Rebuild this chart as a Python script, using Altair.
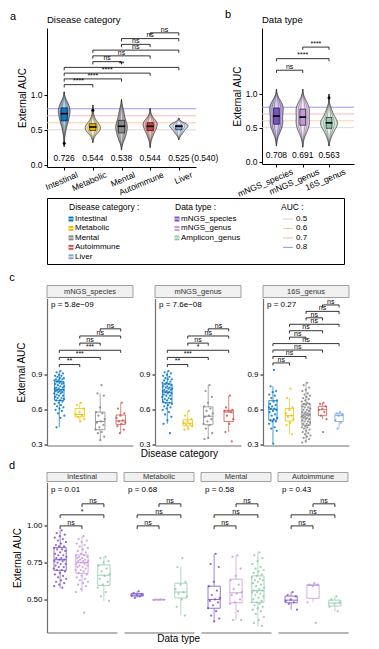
import json
import altair as alt
import pandas as pd

FONT = "Liberation Sans"

# ---------------- categories ----------------
diseases = ["Intestinal", "Metabolic", "Mental", "Autoimmune", "Liver"]
c_types = ["mNGS_species", "mNGS_genus", "16S_genus"]
d_types = ["mNGS_species", "mNGS_genus", "Amplicon_genus"]
d_diseases = ["Intestinal", "Metabolic", "Mental", "Autoimmune"]

# ---------------- panel c values (also feed the violins of a and b) ----------------
c_species_intestinal = [0.93, 0.92, 0.91, 0.90, 0.89, 0.89, 0.88, 0.87, 0.87, 0.86, 0.86, 0.85, 0.85, 0.84,
                        0.84, 0.83, 0.83, 0.82, 0.82, 0.81, 0.80, 0.80, 0.79, 0.79, 0.78, 0.78, 0.77, 0.77,
                        0.77, 0.76, 0.76, 0.75, 0.75, 0.74, 0.74, 0.73, 0.72, 0.72, 0.71, 0.70, 0.70, 0.69,
                        0.68, 0.68, 0.67, 0.66, 0.65, 0.64, 0.63, 0.62, 0.61, 0.60, 0.59, 0.57, 0.55, 0.53, 0.45]
c_species_metabolic = [0.66, 0.64, 0.61, 0.58, 0.56, 0.55, 0.54, 0.52, 0.50]
c_species_mental = [0.81, 0.74, 0.72, 0.62, 0.58, 0.57, 0.55, 0.52, 0.50, 0.49, 0.47, 0.45, 0.43, 0.41,
                    0.40, 0.37, 0.34]
c_species_autoimmune = [0.66, 0.61, 0.57, 0.55, 0.53, 0.51, 0.50, 0.49, 0.48, 0.46, 0.43, 0.40]

c_genus_intestinal = [0.93, 0.92, 0.91, 0.90, 0.89, 0.88, 0.87, 0.86, 0.86, 0.85, 0.84, 0.83, 0.83, 0.82,
                      0.82, 0.81, 0.80, 0.80, 0.79, 0.79, 0.78, 0.78, 0.77, 0.77, 0.76, 0.76, 0.75, 0.75,
                      0.74, 0.74, 0.73, 0.72, 0.72, 0.71, 0.70, 0.69, 0.69, 0.68, 0.67, 0.66, 0.66, 0.65,
                      0.64, 0.63, 0.62, 0.61, 0.60, 0.58, 0.56, 0.54, 0.51, 0.48, 0.40]
c_genus_metabolic = [0.59, 0.55, 0.52, 0.50, 0.49, 0.48, 0.47, 0.46, 0.44, 0.43]
c_genus_mental = [0.81, 0.76, 0.71, 0.66, 0.63, 0.61, 0.59, 0.57, 0.55, 0.54, 0.52, 0.50, 0.48, 0.47,
                  0.44, 0.40, 0.36, 0.35]
c_genus_autoimmune = [0.72, 0.62, 0.60, 0.59, 0.59, 0.58, 0.55, 0.52, 0.48, 0.41, 0.33]

c_16s_intestinal = [0.94, 0.80, 0.76, 0.75, 0.73, 0.72, 0.70, 0.68, 0.67, 0.65, 0.64, 0.63, 0.62, 0.61,
                    0.61, 0.60, 0.59, 0.58, 0.56, 0.55, 0.53, 0.52, 0.51, 0.50, 0.50, 0.48, 0.45, 0.44,
                    0.42, 0.31]
c_16s_metabolic = [0.78, 0.70, 0.62, 0.60, 0.57, 0.55, 0.54, 0.52, 0.49, 0.47, 0.39]
c_16s_mental = [0.83, 0.81, 0.79, 0.77, 0.76, 0.74, 0.73, 0.72, 0.71, 0.70, 0.69, 0.68, 0.67, 0.66,
                0.65, 0.65, 0.64, 0.63, 0.62, 0.62, 0.61, 0.60, 0.60, 0.59, 0.58, 0.58, 0.57, 0.57,
                0.56, 0.56, 0.55, 0.55, 0.54, 0.54, 0.53, 0.53, 0.52, 0.52, 0.51, 0.50, 0.50, 0.49,
                0.48, 0.48, 0.47, 0.46, 0.45, 0.45, 0.44, 0.43, 0.42, 0.41, 0.40, 0.39, 0.38, 0.37,
                0.36, 0.35, 0.33, 0.32]
c_16s_autoimmune = [0.66, 0.65, 0.63, 0.61, 0.60, 0.58, 0.55, 0.52, 0.41]
c_16s_liver = [0.58, 0.57, 0.56, 0.55, 0.51, 0.49, 0.44]

# ---------------- panel d values ----------------
d_intestinal_species = [0.97, 0.95, 0.94, 0.93, 0.92, 0.91, 0.90, 0.89, 0.88, 0.87, 0.86, 0.86, 0.85, 0.84,
                        0.84, 0.83, 0.82, 0.81, 0.80, 0.80, 0.79, 0.78, 0.78, 0.77, 0.77, 0.76, 0.76, 0.75,
                        0.74, 0.74, 0.73, 0.72, 0.72, 0.71, 0.70, 0.70, 0.69, 0.68, 0.67, 0.66, 0.65, 0.64,
                        0.63, 0.62, 0.61, 0.60, 0.59, 0.58]
d_intestinal_genus = [0.93, 0.91, 0.90, 0.89, 0.88, 0.87, 0.86, 0.85, 0.84, 0.83, 0.82, 0.81, 0.80, 0.80,
                      0.79, 0.79, 0.78, 0.78, 0.77, 0.77, 0.76, 0.76, 0.76, 0.75, 0.75, 0.74, 0.74, 0.73,
                      0.73, 0.72, 0.72, 0.71, 0.70, 0.70, 0.69, 0.68, 0.67, 0.66, 0.65, 0.64, 0.63, 0.62,
                      0.61, 0.60, 0.59, 0.57, 0.55, 0.41]
d_intestinal_amplicon = [0.79, 0.78, 0.76, 0.75, 0.73, 0.71, 0.69, 0.67, 0.66, 0.64, 0.62, 0.60, 0.58,
                         0.55, 0.52, 0.49]
d_metabolic_species = [0.555, 0.545, 0.535, 0.53, 0.525, 0.52, 0.51]
d_metabolic_genus = [0.50, 0.50, 0.498, 0.497, 0.495]
d_metabolic_amplicon = [0.78, 0.72, 0.62, 0.60, 0.57, 0.55, 0.54, 0.52, 0.50, 0.45, 0.39]
d_mental_species = [0.81, 0.74, 0.72, 0.62, 0.59, 0.56, 0.53, 0.51, 0.50, 0.49, 0.48, 0.46, 0.44, 0.42,
                    0.39, 0.37, 0.35]
d_mental_genus = [0.80, 0.79, 0.71, 0.66, 0.63, 0.60, 0.57, 0.55, 0.54, 0.53, 0.50, 0.48, 0.47, 0.42,
                  0.36, 0.36]
d_mental_amplicon = [0.82, 0.80, 0.78, 0.76, 0.74, 0.72, 0.71, 0.70, 0.69, 0.68, 0.67, 0.66, 0.65, 0.64,
                     0.63, 0.63, 0.62, 0.61, 0.60, 0.59, 0.58, 0.57, 0.56, 0.56, 0.55, 0.55, 0.54, 0.53,
                     0.52, 0.51, 0.50, 0.49, 0.48, 0.48, 0.47, 0.46, 0.45, 0.44, 0.43, 0.42, 0.40, 0.38,
                     0.36, 0.34, 0.32]
d_autoimmune_species = [0.55, 0.53, 0.52, 0.50, 0.49, 0.48, 0.47, 0.43]
d_autoimmune_genus = [0.61, 0.60, 0.60, 0.59, 0.48, 0.34]
d_autoimmune_amplicon = [0.52, 0.50, 0.48, 0.47, 0.45, 0.42]

# ---------------- text labels ----------------
a_means = ["0.726", "0.544", "0.538", "0.544", "0.525"]
a_mean_extra = "(0.540)"
b_means = ["0.708", "0.691", "0.563"]

pairs5 = [(0, 1), (0, 2), (0, 3), (0, 4), (1, 2), (1, 3), (1, 4), (2, 3), (2, 4), (3, 4)]
pairs4 = [(0, 1), (0, 2), (0, 3), (1, 2), (1, 3), (2, 3)]
pairs3 = [(0, 1), (0, 2), (1, 2)]
a_sig = ["****", "****", "****", "**", "ns", "ns", "ns", "ns", "ns", "ns"]
b_sig = ["ns", "****", "****"]
c_sig = [["**", "***", "***", "ns", "ns", "ns"],
         ["**", "***", "*", "ns", "ns", "ns"],
         ["ns"] * 10]
c_p = ["p = 5.8e\u221209", "p = 7.6e\u221208", "p = 0.27"]
d_sig = [["ns", "*", "ns"], ["ns", "ns", "ns"], ["ns", "ns", "ns"], ["ns", "ns", "ns"]]
d_p = ["p = 0.01", "p = 0.68", "p = 0.58", "p = 0.43"]

legend_headers = ["Disease category :", "Data type :", "AUC :"]
auc_levels = [0.5, 0.6, 0.7, 0.8]

# ---------------- styles ----------------
DIS_COL = {"Intestinal": "#0073C2", "Metabolic": "#EFC000", "Mental": "#868686",
           "Autoimmune": "#CD534C", "Liver": "#7AA6DC"}
DIS_FILL = {"Intestinal": "#8DB3D4", "Metabolic": "#F4E3A6", "Mental": "#B4B4B4",
            "Autoimmune": "#EDB3AF", "Liver": "#CFDDF0"}
DIS_BOX = {"Intestinal": "#1477C6", "Metabolic": "#F0B400", "Mental": "#8C8C8C",
           "Autoimmune": "#D0403A", "Liver": "#7AA6DC"}
TYPE_COL = ["#7A52C7", "#C49AD8", "#8FC9AA"]
TYPE_FILL = ["#BBA8E2", "#E3CDEC", "#D3E9DC"]
AUC_COLS = ["#D6D6D6", "#FBCB92", "#F5B5B5", "#8D8DF6"]

c_groups = {
    ("mNGS_species", "Intestinal"): c_species_intestinal,
    ("mNGS_species", "Metabolic"): c_species_metabolic,
    ("mNGS_species", "Mental"): c_species_mental,
    ("mNGS_species", "Autoimmune"): c_species_autoimmune,
    ("mNGS_genus", "Intestinal"): c_genus_intestinal,
    ("mNGS_genus", "Metabolic"): c_genus_metabolic,
    ("mNGS_genus", "Mental"): c_genus_mental,
    ("mNGS_genus", "Autoimmune"): c_genus_autoimmune,
    ("16S_genus", "Intestinal"): c_16s_intestinal,
    ("16S_genus", "Metabolic"): c_16s_metabolic,
    ("16S_genus", "Mental"): c_16s_mental,
    ("16S_genus", "Autoimmune"): c_16s_autoimmune,
    ("16S_genus", "Liver"): c_16s_liver,
}
d_groups = {
    ("Intestinal", "mNGS_species"): d_intestinal_species,
    ("Intestinal", "mNGS_genus"): d_intestinal_genus,
    ("Intestinal", "Amplicon_genus"): d_intestinal_amplicon,
    ("Metabolic", "mNGS_species"): d_metabolic_species,
    ("Metabolic", "mNGS_genus"): d_metabolic_genus,
    ("Metabolic", "Amplicon_genus"): d_metabolic_amplicon,
    ("Mental", "mNGS_species"): d_mental_species,
    ("Mental", "mNGS_genus"): d_mental_genus,
    ("Mental", "Amplicon_genus"): d_mental_amplicon,
    ("Autoimmune", "mNGS_species"): d_autoimmune_species,
    ("Autoimmune", "mNGS_genus"): d_autoimmune_genus,
    ("Autoimmune", "Amplicon_genus"): d_autoimmune_amplicon,
}

rows = []
for (t, dn), vals in c_groups.items():
    for v in vals:
        rows.append((t, dn, v))
c_long = pd.DataFrame(rows, columns=["type", "disease", "auc"])


def qx(f, sc, ax):
    return alt.X(f"{f}:Q", scale=sc, axis=ax)


def qy(f, sc, ax):
    return alt.Y(f"{f}:Q", scale=sc, axis=ax)


def txt(s, **kw):
    return alt.Chart(pd.DataFrame({"t": [s]})).mark_text(**kw)


def bracket_layers(pairs, sigs, base, step, tick, xs, xax, ys, yax, fs):
    df = pd.DataFrame({"i1": [p[0] for p in pairs], "i2": [p[1] for p in pairs],
                       "sig": sigs, "k": list(range(len(pairs)))})
    b = alt.Chart(df).transform_calculate(
        lev=f"{base} + {step} * datum.k",
        low=f"{base} + {step} * datum.k - {tick}",
        mid="(datum.i1 + datum.i2) / 2")
    h = b.mark_rule(color="black", strokeWidth=0.8).encode(
        x=qx("i1", xs, xax), x2=alt.X2("i2"), y=qy("lev", ys, yax))
    v1 = b.mark_rule(color="black", strokeWidth=0.8).encode(
        x=qx("i1", xs, xax), y=qy("lev", ys, yax), y2=alt.Y2("low"))
    v2 = b.mark_rule(color="black", strokeWidth=0.8).encode(
        x=qx("i2", xs, xax), y=qy("lev", ys, yax), y2=alt.Y2("low"))
    t = b.mark_text(fontSize=fs, baseline="bottom", dy=-0.3).encode(
        x=qx("mid", xs, xax), y=qy("lev", ys, yax), text="sig:N")
    return [h, v1, v2, t]


def violin_chart(df, names, width, height, xdom, ydom, pairs, sigs, bbase, bstep,
                 means, title, letter, letter_dy, label_offset, half, extra=None):
    xs = alt.Scale(domain=xdom, nice=False, zero=False)
    ys = alt.Scale(domain=ydom, nice=False, zero=False)
    xax = alt.Axis(values=list(range(len(names))), labelExpr=json.dumps(names) + "[round(datum.value)]",
                   title=None, labelAngle=337, labelAlign="right", labelBaseline="top",
                   labelFontSize=8.5, labelOffset=label_offset, labelPadding=0, tickSize=3,
                   labelOverlap=False, labelBound=False, labelFlush=False)
    yax = alt.Axis(values=[0, 0.5, 1.0], format=".1f", title="External AUC", titleFontSize=10,
                   labelFontSize=8.5, tickSize=3, labelPadding=2, titlePadding=3)
    layers = []
    auc_df = pd.DataFrame({"lvl": auc_levels, "col": AUC_COLS})
    layers.append(alt.Chart(auc_df).mark_rule(strokeWidth=0.9).encode(
        y=qy("lvl", ys, yax), color=alt.Color("col:N", scale=None)))
    dens = alt.Chart(df).transform_density(
        "auc", groupby=["grp", "idx", "fill"], as_=["auc", "dens"], extent=[0.0, 1.3], steps=220
    ).transform_joinaggregate(maxd="max(dens)", groupby=["grp"]
    ).transform_joinaggregate(gmax="max(dens)"
    ).transform_filter("datum.dens > 0.012 * datum.maxd"
    ).transform_calculate(w="datum.dens / datum.maxd * sqrt(datum.maxd / datum.gmax)")
    for frac, style in [(half, dict(stroke="black", strokeWidth=0.6)),
                        (half * 0.64, dict(fill="white", fillOpacity=0.28, stroke="#3a3a3a", strokeWidth=0.4)),
                        (half * 0.32, dict(fill="white", fillOpacity=0.22, stroke="#3a3a3a", strokeWidth=0.4))]:
        lay = dens.transform_calculate(
            l=f"datum.idx - {frac} * datum.w",
            r=f"datum.idx + {frac} * datum.w")
        enc = dict(y=qy("auc", ys, yax), x=qx("l", xs, xax), x2=alt.X2("r"), detail="grp:N")
        if "fill" not in style:
            enc["fill"] = alt.Fill("fill:N", scale=None)
        layers.append(lay.mark_area(orient="horizontal", **style).encode(**enc))
    stats = alt.Chart(df).transform_aggregate(
        q1="q1(auc)", med="median(auc)", q3="q3(auc)", groupby=["grp", "idx", "box"]
    ).transform_calculate(l="datum.idx - 0.11", r="datum.idx + 0.11",
                          ml="datum.idx - 0.13", mr="datum.idx + 0.13")
    layers.append(stats.mark_rect(stroke="black", strokeWidth=0.6).encode(
        x=qx("l", xs, xax), x2=alt.X2("r"), y=qy("q1", ys, yax), y2=alt.Y2("q3"),
        fill=alt.Fill("box:N", scale=None)))
    layers.append(stats.mark_rule(color="black", strokeWidth=1.6).encode(
        x=qx("ml", xs, xax), x2=alt.X2("mr"), y=qy("med", ys, yax)))
    outl = alt.Chart(df).transform_joinaggregate(q1="q1(auc)", q3="q3(auc)", groupby=["grp"]).transform_filter(
        "datum.auc < datum.q1 - 1.5 * (datum.q3 - datum.q1) || datum.auc > datum.q3 + 1.5 * (datum.q3 - datum.q1)")
    layers.append(outl.mark_circle(color="black", size=9, opacity=1).encode(
        x=qx("idx", xs, xax), y=qy("auc", ys, yax)))
    layers += bracket_layers(pairs, sigs, bbase, bstep, 0.04, xs, xax, ys, yax, 7)
    mdf = pd.DataFrame({"idx": list(range(len(means))), "lab": means})
    layers.append(alt.Chart(mdf).transform_calculate(ypos="0.1").mark_text(fontSize=8.5).encode(
        x=qx("idx", xs, xax), y=qy("ypos", ys, yax), text="lab:N"))
    if extra is not None:
        edf = pd.DataFrame({"idx": [len(means) - 1], "lab": [extra]})
        layers.append(alt.Chart(edf).transform_calculate(ypos="0.1").mark_text(fontSize=8.5, dx=26).encode(
            x=qx("idx", xs, xax), y=qy("ypos", ys, yax), text="lab:N"))
    layers.append(txt(title, fontSize=9.5, align="left", baseline="bottom").encode(
        x=alt.value(0), y=alt.value(-3), text="t:N"))
    layers.append(txt(letter, fontSize=11, align="center", baseline="middle").encode(
        x=alt.value(-34), y=alt.value(letter_dy), text="t:N"))
    return alt.layer(*layers).properties(width=width, height=height)


def box_panel(df, n, width, height, ydom, yvals, yfmt, ytitle, show_y, pairs, sigs, bbase, bstep,
              ptext, p_dy, strip, strip_top, letter, letter_dy, letter_vis, jw, bw):
    xs = alt.Scale(domain=[-0.6, n - 0.4], nice=False, zero=False)
    ys = alt.Scale(domain=ydom, nice=False, zero=False)
    xax = alt.Axis(labels=False, ticks=False, title=None, domainColor="#6e6e6e", domainWidth=1.2)
    if show_y:
        yax = alt.Axis(values=yvals, format=yfmt, title=ytitle, titleFontSize=10, labelFontSize=8,
                       tickSize=3, labelPadding=2, titlePadding=4,
                       domainColor="#6e6e6e", domainWidth=1.2)
    else:
        yax = None
    base = alt.Chart(df)
    stats = base.transform_joinaggregate(
        q1="q1(auc)", q3="q3(auc)", med="median(auc)", groupby=["grp"]
    ).transform_filter(
        "datum.auc >= datum.q1 - 1.5 * (datum.q3 - datum.q1) && datum.auc <= datum.q3 + 1.5 * (datum.q3 - datum.q1)"
    ).transform_aggregate(
        lo="min(auc)", hi="max(auc)", q1="min(q1)", q3="min(q3)", med="min(med)",
        groupby=["grp", "idx", "col"]
    ).transform_calculate(l=f"datum.idx - {bw}", r=f"datum.idx + {bw}")
    col = alt.Color("col:N", scale=None)
    layers = [
        alt.Chart(pd.DataFrame({"t": [strip]})).mark_rect(fill="#F0F0F0", stroke="#8a8a8a", strokeWidth=0.8).encode(
            x=alt.value(0), x2=alt.value(width), y=alt.value(strip_top), y2=alt.value(-1)),
        txt(strip, fontSize=7.5, color="#333333", baseline="middle").encode(
            x=alt.value(width / 2), y=alt.value((strip_top - 1) / 2), text="t:N"),
        stats.mark_rule(strokeWidth=0.7).encode(x=qx("idx", xs, xax), y=qy("lo", ys, yax), y2=alt.Y2("q1"), color=col),
        stats.mark_rule(strokeWidth=0.7).encode(x=qx("idx", xs, xax), y=qy("q3", ys, yax), y2=alt.Y2("hi"), color=col),
        stats.mark_rect(fill="white", strokeWidth=0.8).encode(
            x=qx("l", xs, xax), x2=alt.X2("r"), y=qy("q1", ys, yax), y2=alt.Y2("q3"),
            stroke=alt.Stroke("col:N", scale=None)),
        stats.mark_rule(strokeWidth=0.9).encode(x=qx("l", xs, xax), x2=alt.X2("r"), y=qy("med", ys, yax), color=col),
        base.transform_window(rn="row_number()", groupby=["grp"]).transform_calculate(
            jx=f"datum.idx + ((datum.rn * 0.6180339887) % 1 - 0.5) * {2 * jw}"
        ).mark_circle(size=5, opacity=0.85).encode(x=qx("jx", xs, xax), y=qy("auc", ys, yax), color=col),
    ]
    layers += bracket_layers(pairs, sigs, bbase, bstep, 0.022, xs, xax, ys, yax, 7)
    layers.append(txt(ptext, fontSize=8, align="left", baseline="top").encode(
        x=alt.value(4), y=alt.value(p_dy), text="t:N"))
    layers.append(txt(letter, fontSize=11, align="center", baseline="middle",
                      opacity=1 if letter_vis else 0).encode(
        x=alt.value(-35 if letter_vis else 8), y=alt.value(letter_dy), text="t:N"))
    return alt.layer(*layers).properties(width=width, height=height)


# ---------------- panel a ----------------
a_df = c_long.copy()
a_df["grp"] = a_df["disease"]
a_df["idx"] = a_df["disease"].map(lambda s: diseases.index(s))
a_df["fill"] = a_df["disease"].map(DIS_FILL)
a_df["box"] = a_df["disease"].map(DIS_BOX)
chart_a = violin_chart(a_df, diseases, 149, 139, [-0.6, 4.6], [-0.03, 1.95], pairs5, a_sig,
                       1.143, 0.082, a_means, "Disease category", "a", -11.5, 11, 0.32,
                       extra=a_mean_extra)

# ---------------- panel b ----------------
b_df = c_long.copy()
b_df["grp"] = b_df["type"]
b_df["idx"] = b_df["type"].map(lambda s: c_types.index(s))
b_df["fill"] = b_df["idx"].map(lambda i: TYPE_FILL[i])
b_df["box"] = b_df["idx"].map(lambda i: TYPE_COL[i])
chart_b = violin_chart(b_df, c_types, 92, 136, [-0.55, 2.95], [-0.035, 1.965], pairs3, b_sig,
                       1.344, 0.17, b_means, "Data type", "b", -13.5, 14, 0.32)

row1 = alt.hconcat(chart_a, chart_b, spacing=5)

# ---------------- legend box ----------------
lx = alt.Scale(domain=[-0.2264, 2.5755], nice=False, zero=False)
ly = alt.Scale(domain=[-2.222, 4.762], nice=False, zero=False, reverse=True)
leg_items = []
for i, dn in enumerate(diseases):
    leg_items.append({"c": 0, "r": i, "lab": dn, "col": DIS_COL[dn]})
for i, tn in enumerate(d_types):
    leg_items.append({"c": 1, "r": i, "lab": tn, "col": TYPE_COL[i]})
leg_sym = pd.DataFrame(leg_items)
leg_auc = pd.DataFrame({"c": [2] * 4, "r": list(range(4)), "lab": [str(v) for v in auc_levels], "col": AUC_COLS})
leg_head = pd.DataFrame({"c": [0, 1, 2], "lab": legend_headers})
legend = alt.layer(
    alt.Chart(leg_head).transform_calculate(r="-1.27").mark_text(
        align="left", baseline="middle", fontSize=8.5, dx=-2).encode(
        x=qx("c", lx, None), y=qy("r", ly, None), text="lab:N"),
    alt.Chart(leg_sym).mark_square(size=24, opacity=1).encode(
        x=qx("c", lx, None), y=qy("r", ly, None), color=alt.Color("col:N", scale=None)),
    alt.Chart(leg_sym).transform_calculate(a="datum.c - 0.022", b="datum.c + 0.022").mark_rule(
        color="white", strokeWidth=0.9).encode(x=qx("a", lx, None), x2=alt.X2("b"), y=qy("r", ly, None)),
    alt.Chart(leg_sym).mark_text(align="left", baseline="middle", fontSize=8, dx=4).encode(
        x=qx("c", lx, None), y=qy("r", ly, None), text="lab:N"),
    alt.Chart(leg_auc).transform_calculate(b="datum.c + 0.094").mark_rule(strokeWidth=1).encode(
        x=qx("c", lx, None), x2=alt.X2("b"), y=qy("r", ly, None), color=alt.Color("col:N", scale=None)),
    alt.Chart(leg_auc).mark_text(align="left", baseline="middle", fontSize=8, dx=13).encode(
        x=qx("c", lx, None), y=qy("r", ly, None), text="lab:N"),
    txt("a", fontSize=11, opacity=0).encode(x=alt.value(-34), y=alt.value(30), text="t:N"),
).properties(width=297, height=66, view=alt.ViewBackground(stroke="black", strokeWidth=1))

# ---------------- panel c ----------------
c_panels = []
c_base = [(0.986, 0.061), (0.986, 0.061), (1.0, 0.055)]
for k, t in enumerate(c_types):
    sub = c_long[c_long["type"] == t].copy()
    present = [d for d in diseases if d in set(sub["disease"])]
    sub["grp"] = sub["disease"]
    sub["idx"] = sub["disease"].map(lambda s: present.index(s))
    sub["col"] = sub["disease"].map(DIS_COL)
    n = len(present)
    pairs = pairs4 if n == 4 else pairs5
    c_panels.append(box_panel(sub, n, 86, 147, [0.295, 1.55], [0.3, 0.6, 0.9], ".1f",
                              "External AUC" if k == 0 else None, True, pairs, c_sig[k],
                              c_base[k][0], c_base[k][1], c_p[k], 2, t, -13, "c", -20.5, k == 0,
                              0.25 if n == 4 else 0.27, 0.23 if n == 4 else 0.25))
row_c = alt.hconcat(*c_panels, spacing=4).properties(
    title=alt.TitleParams("Disease category", orient="bottom", anchor="middle", fontSize=10, offset=0))

# ---------------- panel d ----------------
d_panels = []
for k, dn in enumerate(d_diseases):
    rws = []
    for i, tn in enumerate(d_types):
        for v in d_groups[(dn, tn)]:
            rws.append((tn, i, TYPE_COL[i], v))
    sub = pd.DataFrame(rws, columns=["grp", "idx", "col", "auc"])
    d_panels.append(box_panel(sub, 3, 70, 150, [0.275, 1.295], [0.5, 0.75, 1.0], ".2f",
                              "External AUC", k == 0, pairs3, d_sig[k], 1.0, 0.075, d_p[k], 3,
                              dn, -10, "d", -16.5, k == 0, 0.3, 0.28))
row_d = alt.hconcat(*d_panels, spacing=5).properties(
    title=alt.TitleParams("Data type", orient="bottom", anchor="middle", fontSize=10, offset=1))

top = alt.vconcat(row1, legend, spacing=-5)
bottom = alt.vconcat(row_c, row_d, spacing=0)
chart = alt.vconcat(top, bottom, spacing=6.5).properties(
    padding={"left": 0, "top": 0, "right": 0, "bottom": 0}
).configure(font=FONT).configure_view(stroke=None).configure_axis(
    grid=False, domainColor="black", tickColor="black", labelColor="black", titleColor="black",
    titleFontWeight="normal", labelFont=FONT, titleFont=FONT
).configure_title(font=FONT, fontWeight="normal", color="black").configure_text(font=FONT)

chart.save("out.html", embed_options={"renderer": "svg", "actions": False})
